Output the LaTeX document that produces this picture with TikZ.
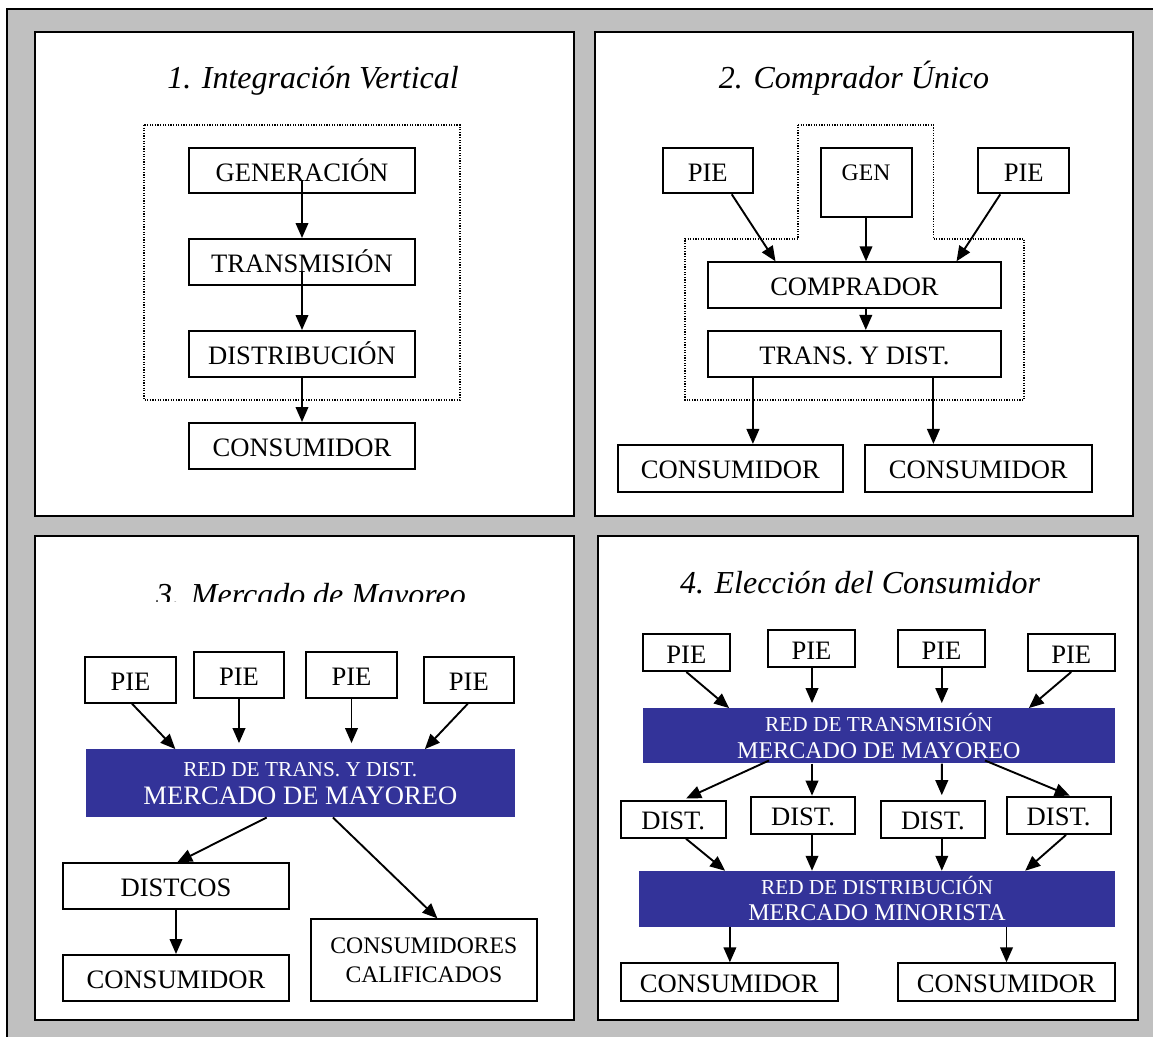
\documentclass[tikz,border=0pt]{standalone}
\usepackage{fontspec}
\setmainfont{Liberation Serif}
\usetikzlibrary{arrows.meta}
\definecolor{framegrey}{RGB}{192,192,192}
\definecolor{market}{RGB}{51,51,153}

\tikzset{
  panel/.style={draw, line width=2pt, fill=white},
  heading/.style={anchor=base, inner sep=0pt, font=\fontsize{32pt}{36pt}\selectfont\itshape},
  bx/.style={draw, line width=2pt, fill=white, inner sep=0pt,
    text height=21pt, text depth=0pt, font=\fontsize{26.6pt}{30pt}\selectfont},
  sz/.style 2 args={minimum width=#1pt, minimum height=#2pt},
  net/.style={fill=market, text=white, inner sep=0pt, align=center},
  flow/.style={line width=1.9pt, -{Triangle[width=12.6pt,length=15pt]}},
  grouping/.style={line width=1.2pt, dash pattern=on 1.2pt off 1.4pt},
}

\begin{document}
\begin{tikzpicture}[x=1pt,y=-1pt]
\useasboundingbox (0,0) rectangle (1153,1036);

% outer frame (runs past the page edge on the right and bottom)
\fill[framegrey] (7,9) rectangle (1165,1048);
\draw[line width=2pt] (7,1048) -- (7,9) -- (1165,9);

% the four panels
\draw[panel] (35.2,32.3) rectangle (574,516);
\draw[panel] (594.6,32.3) rectangle (1133,516);
\draw[panel] (35.2,535.7) rectangle (574,1020);
\draw[panel] (598.3,535.7) rectangle (1138,1020);

% ---------- 1. Integracion vertical ----------
\node[heading] (t1) at (313,88.3) {1. Integración Vertical};
\draw[grouping] (144,125) rectangle (460,400);
\node[bx, sz={226}{45}] (gen)   at (302,170.5) {GENERACIÓN};
\node[bx, sz={226}{46}] (trans) at (302,262)   {TRANSMISIÓN};
\node[bx, sz={226}{46}] (dist)  at (302,354)   {DISTRIBUCIÓN};
\node[bx, sz={226}{46}] (cons1) at (302,446)   {CONSUMIDOR};
\draw[flow] ([yshift=-9.5pt]gen.center) -- (trans.north);
\draw[flow] ([yshift=-10pt]trans.center) -- (dist.north);
\draw[flow] (dist.south) -- (cons1.north);

% ---------- 2. Comprador unico ----------
\node[heading] (t2) at (854,88.3) {2. Comprador Único};
\draw[grouping] (798,125) -- (933.4,125) -- (933.4,239) -- (1024,239) -- (1024,400)
  -- (685,400) -- (685,239) -- (798,239) -- cycle;
\node[bx, sz={90.3}{45.6}] (pieL) at (707.75,170.5) {PIE};
\node[bx, sz={91}{69}, text height=21pt, font=\fontsize{23.7pt}{28pt}\selectfont] (gen2) at (866,182.2)
  {\raisebox{12pt}[0pt][0pt]{GEN}};
\node[bx, sz={90.6}{45.6}] (pieR) at (1023.7,170.5) {PIE};
\node[bx, sz={293}{46}] (comp) at (854.5,285.3) {COMPRADOR};
\node[bx, sz={293}{45.7}] (td) at (854.5,353.8) {TRANS. Y DIST.};
\node[bx, sz={225.6}{46.7}] (consL) at (730.4,468.3) {CONSUMIDOR};
\node[bx, sz={226.7}{46.7}] (consR) at (978.3,468.3) {CONSUMIDOR};
\draw[flow] ([xshift=24pt]pieL.south) -- ([xshift=-79pt]comp.north);
\draw[flow] (gen2.south) -- (gen2.south |- comp.north);
\draw[flow] ([xshift=-23.4pt]pieR.south) -- ([xshift=102pt]comp.north);
\draw[flow] ([xshift=11.3pt]comp.south) -- ([xshift=11.3pt]td.north);
\draw[flow] ([xshift=-101.6pt]td.south) -- ([xshift=-101.6pt]td.south |- consL.north);
\draw[flow] ([xshift=78.9pt]td.south) -- ([xshift=78.9pt]td.south |- consR.north);

% ---------- 3. Mercado de mayoreo ----------
\begin{scope}
  \clip (36,537) rectangle (573,601.7);
  \node[heading] (t3) at (311,605) {3. Mercado de Mayoreo};
\end{scope}
\node[bx, sz={91}{46}]   (p31) at (130.5,679.7) {PIE};
\node[bx, sz={90}{45.4}] (p32) at (239,675)     {PIE};
\node[bx, sz={91}{45.4}] (p33) at (351.5,675)   {PIE};
\node[bx, sz={90.4}{46}] (p34) at (468.8,679.7) {PIE};
\node[net, sz={428.7}{68}, font=\fontsize{26.6pt}{28.4pt}\selectfont] (blue3) at (300.35,783.3)
  {{\fontsize{21.3pt}{25pt}\selectfont RED DE TRANS. Y DIST.}\\MERCADO DE MAYOREO};
\node[bx, sz={226}{45.7}] (distcos) at (176,886.2) {DISTCOS};
\node[bx, sz={226}{46}]   (cons3)   at (176,978)   {CONSUMIDOR};
\node[draw, line width=2pt, fill=white, inner sep=0pt, align=center, sz={226.2}{81.7},
  font=\fontsize{23.7pt}{29.3pt}\selectfont] (cc) at (423.9,960.2)
  {CONSUMIDORES\\CALIFICADOS};
\draw[flow] ([xshift=1.5pt]p31.south) -- ([xshift=-125pt]blue3.north);
\draw[flow, shorten >=6pt] (p32.south) -- (p32.south |- blue3.north);
\draw[flow, shorten >=6pt] (p33.south) -- (p33.south |- blue3.north);
\draw[flow] ([xshift=-1pt]p34.south) -- ([xshift=124.5pt]blue3.north);
\draw[flow] ([xshift=-33.6pt]blue3.south) -- ([xshift=1.2pt]distcos.north);
\draw[flow] ([xshift=32.6pt]blue3.south) -- ([xshift=13.5pt]cc.north);
\draw[flow] (distcos.south) -- (cons3.north);

% ---------- 4. Eleccion del consumidor ----------
\node[heading] (t4) at (860,593.3) {4. Elección del Consumidor};
\node[bx, sz={87}{37}]   (q1) at (686.4,652.5)  {PIE};
\node[bx, sz={86.7}{37.3}] (q2) at (811.5,648.7) {PIE};
\node[bx, sz={87}{37.3}] (q3) at (941.5,648.7)  {PIE};
\node[bx, sz={87}{37}]   (q4) at (1071.2,652.5) {PIE};
\node[net, sz={471.8}{55}, font=\fontsize{24pt}{26.6pt}\selectfont] (blue41) at (878.8,735.8)
  {{\fontsize{21.3pt}{25pt}\selectfont RED DE TRANSMISIÓN}\\MERCADO DE MAYOREO};
\node[bx, sz={104.6}{37}]   (d1) at (673.2,819.2)  {DIST.};
\node[bx, sz={104.5}{37.3}] (d2) at (803,815.3)    {DIST.};
\node[bx, sz={104.2}{37}]   (d3) at (932.9,819.2)  {DIST.};
\node[bx, sz={104.2}{37.3}] (d4) at (1058.6,815.3) {DIST.};
\node[net, sz={475.5}{55.7}, font=\fontsize{24pt}{26pt}\selectfont] (blue42) at (877,898.8)
  {{\fontsize{21.3pt}{25pt}\selectfont RED DE DISTRIBUCIÓN}\\MERCADO MINORISTA};
\node[bx, sz={216.8}{37.7}] (c41) at (729.3,982.2)  {CONSUMIDOR};
\node[bx, sz={216.7}{37.7}] (c42) at (1006.4,982.2) {CONSUMIDOR};

\draw[flow] (q1.south) -- ([xshift=-149.7pt]blue41.north);
\draw[flow, shorten >=5pt] ([xshift=0.5pt]q2.south) -- ([xshift=0.5pt]q2.south |- blue41.north);
\draw[flow, shorten >=5pt] ([xshift=0.3pt]q3.south) -- ([xshift=0.3pt]q3.south |- blue41.north);
\draw[flow] (q4.south) -- ([xshift=150pt]blue41.north);

\draw[flow, shorten >=3pt] ([xshift=-109.8pt, yshift=3pt]blue41.south) -- ([xshift=10.2pt]d1.north);
\draw[flow] ([xshift=-66.8pt]blue41.south) -- ([xshift=9pt]d2.north);
\draw[flow, shorten >=4.5pt] ([xshift=63pt]blue41.south) -- ([xshift=8.9pt]d3.north);
\draw[flow] ([xshift=106.2pt, yshift=3pt]blue41.south) -- ([xshift=11.2pt]d4.north);

\draw[flow] ([xshift=12.8pt]d1.south) -- ([xshift=-151.9pt]blue42.north);
\draw[flow] ([xshift=9pt]d2.south) -- ([xshift=9pt]d2.south |- blue42.north);
\draw[flow] ([xshift=8.9pt]d3.south) -- ([xshift=8.9pt]d3.south |- blue42.north);
\draw[flow] ([xshift=7.4pt]d4.south) -- ([xshift=148.2pt]blue42.north);

\draw[flow] ([xshift=-147.1pt]blue42.south) -- ([xshift=-147.1pt]blue42.south |- c41.north);
\draw[flow] ([xshift=129.5pt]blue42.south) -- ([xshift=129.5pt]blue42.south |- c42.north);
\end{tikzpicture}
\end{document}
